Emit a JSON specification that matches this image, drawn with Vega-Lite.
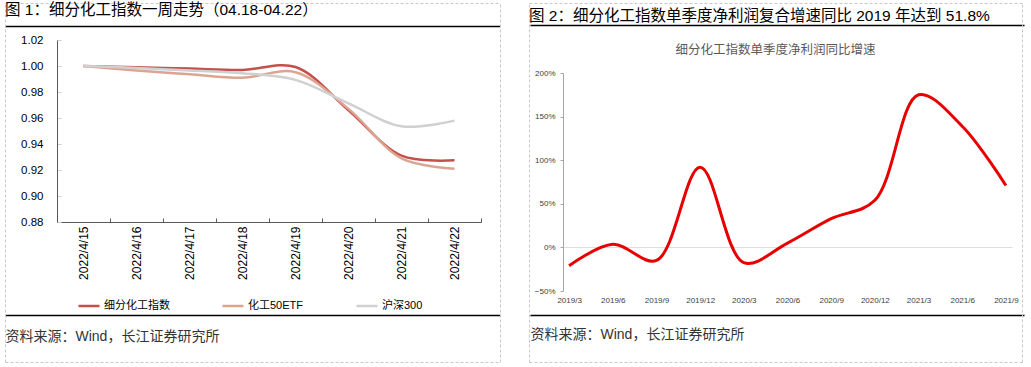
{
  "$schema": "https://vega.github.io/schema/vega-lite/v6.json",
  "padding": {"left": 5, "top": 0, "right": 0, "bottom": 0},
  "spacing": -23,
  "align": "none",
  "config": {
    "font": "Liberation Sans, Noto Sans CJK SC, sans-serif",
    "view": {"stroke": null},
    "title": {"fontWeight": "normal", "color": "#000000", "anchor": "start", "frame": "bounds"},
    "axis": {"grid": false}
  },
  "hconcat": [
    {
      "width": 424,
      "height": 182,
      "title": {"text": "图 1：细分化工指数一周走势（04.18-04.22）", "fontSize": 15.5, "offset": -18},
      "data": {"values": [
        {"date": "2022/4/15", "series": "细分化工指数", "value": 1.000},
        {"date": "2022/4/16", "series": "细分化工指数", "value": 0.999},
        {"date": "2022/4/17", "series": "细分化工指数", "value": 0.998},
        {"date": "2022/4/18", "series": "细分化工指数", "value": 0.997},
        {"date": "2022/4/19", "series": "细分化工指数", "value": 0.9992},
        {"date": "2022/4/20", "series": "细分化工指数", "value": 0.966},
        {"date": "2022/4/21", "series": "细分化工指数", "value": 0.931},
        {"date": "2022/4/22", "series": "细分化工指数", "value": 0.9275},
        {"date": "2022/4/15", "series": "化工50ETF", "value": 1.000},
        {"date": "2022/4/16", "series": "化工50ETF", "value": 0.9965},
        {"date": "2022/4/17", "series": "化工50ETF", "value": 0.9937},
        {"date": "2022/4/18", "series": "化工50ETF", "value": 0.991},
        {"date": "2022/4/19", "series": "化工50ETF", "value": 0.9952},
        {"date": "2022/4/20", "series": "化工50ETF", "value": 0.967},
        {"date": "2022/4/21", "series": "化工50ETF", "value": 0.929},
        {"date": "2022/4/22", "series": "化工50ETF", "value": 0.921},
        {"date": "2022/4/15", "series": "沪深300", "value": 1.000},
        {"date": "2022/4/16", "series": "沪深300", "value": 0.9985},
        {"date": "2022/4/17", "series": "沪深300", "value": 0.9965},
        {"date": "2022/4/18", "series": "沪深300", "value": 0.9945},
        {"date": "2022/4/19", "series": "沪深300", "value": 0.9893},
        {"date": "2022/4/20", "series": "沪深300", "value": 0.9712},
        {"date": "2022/4/21", "series": "沪深300", "value": 0.9536},
        {"date": "2022/4/22", "series": "沪深300", "value": 0.958}
      ]},
      "resolve": {"scale": {"x": "independent", "y": "independent"}, "axis": {"x": "independent", "y": "independent"}},
      "layer": [
        {
          "mark": {"type": "line", "interpolate": "catmull-rom", "strokeWidth": 2.5},
          "encoding": {
            "x": {
              "field": "date", "type": "ordinal", "sort": null, "bandPosition": 0.5,
              "scale": {"type": "band", "paddingInner": 0, "paddingOuter": 0},
              "axis": {"title": null, "labelAngle": -90, "labelFontSize": 12, "labelColor": "#000000",
                       "tickBand": "extent", "tickSize": -4, "labelPadding": 8,
                       "domainColor": "#595959", "tickColor": "#595959"}
            },
            "y": {
              "field": "value", "type": "quantitative",
              "scale": {"domain": [0.88, 1.02], "nice": false, "zero": false},
              "axis": {"title": null, "values": [0.88, 0.90, 0.92, 0.94, 0.96, 0.98, 1.00, 1.02], "format": ".2f",
                       "tickCount": 10, "labelOverlap": false, "labelFontSize": 11.5, "labelColor": "#000000",
                       "domainColor": "#595959", "tickColor": "#d0d0d0", "tickSize": -4, "labelPadding": 18}
            },
            "color": {
              "field": "series", "type": "nominal",
              "scale": {"domain": ["细分化工指数", "化工50ETF", "沪深300"], "range": ["#c3504d", "#dca592", "#d0d0d0"]},
              "legend": {"orient": "none", "legendX": 20, "legendY": 254, "direction": "horizontal", "columns": 3,
                         "title": null, "symbolType": "stroke", "symbolSize": 441, "symbolStrokeWidth": 2.5,
                         "labelOffset": 3, "labelFontSize": 11, "labelColor": "#000000", "columnPadding": 47}
            }
          }
        },
        {
          "mark": {"type": "point", "opacity": 0},
          "encoding": {
            "x": {
              "field": "date", "type": "ordinal", "sort": null,
              "scale": {"type": "band", "range": [-52, 443]},
              "axis": {"orient": "top", "offset": 14, "labels": false, "ticks": false, "title": null,
                       "domainColor": "#000000", "domainWidth": 1.5}
            },
            "y": {"field": "value", "type": "quantitative", "axis": null}
          }
        },
        {
          "mark": {"type": "point", "opacity": 0},
          "encoding": {
            "x": {
              "field": "date", "type": "ordinal", "sort": null,
              "scale": {"type": "band", "range": [-52, 443]},
              "axis": {"orient": "bottom", "offset": 93, "labels": false, "ticks": false,
                       "title": "资料来源：Wind，长江证券研究所", "titleX": -52, "titleY": 21,
                       "titleAlign": "left", "titleBaseline": "middle", "titleFontSize": 14,
                       "titleFontWeight": "normal", "titleColor": "#333333",
                       "domainColor": "#000000", "domainWidth": 1.5}
            },
            "y": {"field": "value", "type": "quantitative", "axis": null}
          }
        },
        {
          "mark": {"type": "point", "opacity": 0},
          "encoding": {
            "x": {
              "field": "date", "type": "ordinal", "sort": null,
              "scale": {"type": "band", "range": [-52, 443]},
              "axis": {"orient": "top", "offset": 37, "labels": false, "ticks": false, "title": null,
                       "domainColor": "#c8c8c8", "domainWidth": 1, "domainDash": [3, 2]}
            },
            "y": {
              "field": "value", "type": "quantitative",
              "scale": {"range": [322, -37]},
              "axis": {"orient": "left", "offset": 52, "labels": false, "ticks": false, "title": null,
                       "domainColor": "#c8c8c8", "domainWidth": 1, "domainDash": [3, 2]}
            }
          }
        },
        {
          "mark": {"type": "point", "opacity": 0},
          "encoding": {
            "x": {
              "field": "date", "type": "ordinal", "sort": null,
              "scale": {"type": "band", "range": [-52, 443]},
              "axis": {"orient": "bottom", "offset": 140, "labels": false, "ticks": false, "title": null,
                       "domainColor": "#c8c8c8", "domainWidth": 1, "domainDash": [3, 2]}
            },
            "y": {
              "field": "value", "type": "quantitative",
              "scale": {"range": [322, -37]},
              "axis": {"orient": "right", "offset": 19, "labels": false, "ticks": false, "title": null,
                       "domainColor": "#c8c8c8", "domainWidth": 1, "domainDash": [3, 2]}
            }
          }
        }
      ]
    },
    {
      "width": 449,
      "height": 251,
      "title": {"text": "图 2：细分化工指数单季度净利润复合增速同比 2019 年达到 51.8%", "fontSize": 15.5, "offset": -21},
      "data": {"values": [
        {"quarter": "2019/3", "growth": -0.21},
        {"quarter": "2019/6", "growth": 0.035},
        {"quarter": "2019/9", "growth": -0.15},
        {"quarter": "2019/12", "growth": 0.92},
        {"quarter": "2020/3", "growth": -0.175},
        {"quarter": "2020/6", "growth": 0.05},
        {"quarter": "2020/9", "growth": 0.33},
        {"quarter": "2020/12", "growth": 0.54},
        {"quarter": "2021/3", "growth": 1.75},
        {"quarter": "2021/6", "growth": 1.39},
        {"quarter": "2021/9", "growth": 0.71}
      ]},
      "resolve": {"scale": {"x": "independent", "y": "independent"}, "axis": {"x": "independent", "y": "independent"}},
      "layer": [
        {
          "mark": {"type": "line", "interpolate": "catmull-rom", "strokeWidth": 3, "color": "#e60000"},
          "encoding": {
            "x": {
              "field": "quarter", "type": "ordinal", "sort": null,
              "scale": {"type": "point", "padding": 0.14},
              "axis": {"title": null, "labelAngle": 0, "labelFontSize": 8, "labelColor": "#404040",
                       "ticks": false, "domain": false, "labelPadding": 5}
            },
            "y": {
              "field": "growth", "type": "quantitative",
              "scale": {"domain": [-0.5, 2], "nice": false, "zero": false, "range": [251, 33]},
              "axis": {"title": null, "values": [-0.5, 0, 0.5, 1, 1.5, 2], "format": ".0%", "tickCount": 10,
                       "labelOverlap": false, "labelFontSize": 8, "labelColor": "#404040", "domainColor": "#a6a6a6",
                       "tickColor": "#a6a6a6", "tickSize": 3, "labelPadding": 5,
                       "grid": true, "gridColor": {"condition": {"test": "datum.value === 0", "value": "#dedede"}, "value": "transparent"}}
            }
          }
        },
        {
          "mark": {"type": "point", "opacity": 0},
          "encoding": {
            "x": {
              "field": "quarter", "type": "ordinal", "sort": null,
              "scale": {"type": "band", "range": [-33, 461]},
              "axis": {"orient": "top", "offset": 15, "labels": false, "ticks": false,
                       "title": "细分化工指数单季度净利润同比增速", "titleX": 212, "titleY": 24,
                       "titleAlign": "center", "titleBaseline": "middle", "titleFontSize": 12.5,
                       "titleFontWeight": "normal", "titleColor": "#595959",
                       "domainColor": "#000000", "domainWidth": 1.5}
            },
            "y": {"field": "growth", "type": "quantitative", "axis": null}
          }
        },
        {
          "mark": {"type": "point", "opacity": 0},
          "encoding": {
            "x": {
              "field": "quarter", "type": "ordinal", "sort": null,
              "scale": {"type": "band", "range": [-33, 461]},
              "axis": {"orient": "bottom", "offset": 24, "labels": false, "ticks": false,
                       "title": "资料来源：Wind，长江证券研究所", "titleX": -33, "titleY": 19,
                       "titleAlign": "left", "titleBaseline": "middle", "titleFontSize": 14,
                       "titleFontWeight": "normal", "titleColor": "#333333",
                       "domainColor": "#000000", "domainWidth": 1.5}
            },
            "y": {"field": "growth", "type": "quantitative", "axis": null}
          }
        },
        {
          "mark": {"type": "point", "opacity": 0},
          "encoding": {
            "x": {
              "field": "quarter", "type": "ordinal", "sort": null,
              "scale": {"type": "band", "range": [-34, 459]},
              "axis": {"orient": "top", "offset": 37, "labels": false, "ticks": false, "title": null,
                       "domainColor": "#c8c8c8", "domainWidth": 1, "domainDash": [3, 2]}
            },
            "y": {
              "field": "growth", "type": "quantitative",
              "scale": {"range": [322, -37]},
              "axis": {"orient": "left", "offset": 34, "labels": false, "ticks": false, "title": null,
                       "domainColor": "#c8c8c8", "domainWidth": 1, "domainDash": [3, 2]}
            }
          }
        },
        {
          "mark": {"type": "point", "opacity": 0},
          "encoding": {
            "x": {
              "field": "quarter", "type": "ordinal", "sort": null,
              "scale": {"type": "band", "range": [-34, 459]},
              "axis": {"orient": "bottom", "offset": 71, "labels": false, "ticks": false, "title": null,
                       "domainColor": "#c8c8c8", "domainWidth": 1, "domainDash": [3, 2]}
            },
            "y": {
              "field": "growth", "type": "quantitative",
              "scale": {"range": [322, -37]},
              "axis": {"orient": "right", "offset": 10, "labels": false, "ticks": false, "title": null,
                       "domainColor": "#c8c8c8", "domainWidth": 1, "domainDash": [3, 2]}
            }
          }
        }
      ]
    }
  ]
}
